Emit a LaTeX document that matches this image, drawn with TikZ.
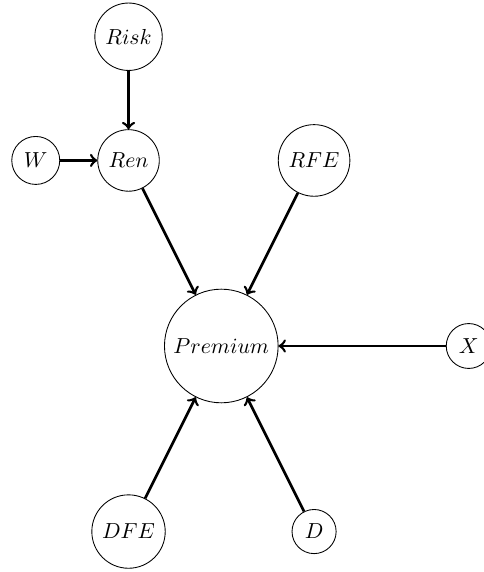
\documentclass[tikz,border=0pt]{standalone}
\begin{document}
\begin{tikzpicture}[
  var/.style={draw, circle},
  edge/.style={->, very thick}
]
\useasboundingbox (-3.578,-3.654) rectangle (4.247,5.594);
\node[var] (P) at (0,0) {$Premium$};
\node[var] (Risk) at (-1.5,5) {$Risk$};
\node[var] (Ren) at (-1.5,3) {$Ren$};
\node[var] (W) at (-3,3) {$W$};
\node[var] (RFE) at (1.5,3) {$RFE$};
\node[var] (X) at (4,0) {$X$};
\node[var] (DFE) at (-1.5,-3) {$DFE$};
\node[var] (D) at (1.5,-3) {$D$};
\draw[edge] (Risk) -- (Ren);
\draw[edge] (W) -- (Ren);
\draw[edge] (Ren) -- (P);
\draw[edge] (RFE) -- (P);
\draw[edge] (X) -- (P);
\draw[edge] (DFE) -- (P);
\draw[edge] (D) -- (P);
\end{tikzpicture}
\end{document}
